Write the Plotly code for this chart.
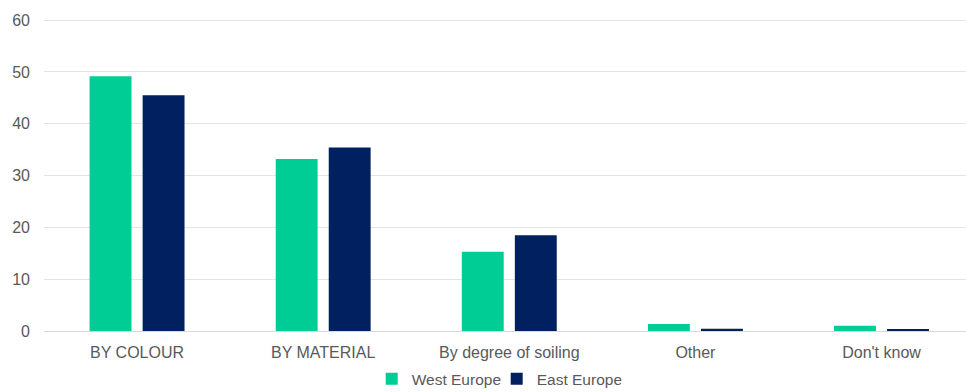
import plotly.graph_objects as go

categories = ["BY COLOUR", "BY MATERIAL", "By degree of soiling", "Other", "Don't know"]
west_europe = [49.2, 33.2, 15.3, 1.35, 1.0]
east_europe = [45.5, 35.4, 18.5, 0.45, 0.25]
y_ticks = [0, 10, 20, 30, 40, 50, 60]

GREEN = "#00CC96"
NAVY = "#002060"
TEXT = "#595959"
GRID = "#E3E3E3"

fig = go.Figure()
fig.add_trace(go.Bar(name="West Europe", x=list(range(len(categories))), y=west_europe,
                     marker=dict(color=GREEN, line=dict(width=0))))
fig.add_trace(go.Bar(name="East Europe", x=list(range(len(categories))), y=east_europe,
                     marker=dict(color=NAVY, line=dict(width=0))))

fig.update_layout(
    width=966, height=392,
    margin=dict(l=44, r=0, t=15, b=61, autoexpand=False),
    paper_bgcolor="white", plot_bgcolor="white",
    barmode="group", bargap=0.43, bargroupgap=0.21,
    font=dict(family="Liberation Sans, Arial, sans-serif", size=16, color=TEXT),
    showlegend=True,
    legend=dict(orientation="h", x=0.491, xanchor="center",
                yref="container", y=0.033, yanchor="middle",
                font=dict(size=15.5, color=TEXT), traceorder="normal",
                itemwidth=30, itemsizing="constant", tracegroupgap=0,
                entrywidth=80, entrywidthmode="pixels"),
    xaxis=dict(range=[-0.5, 4.454], tickmode="array",
               tickvals=list(range(len(categories))), ticktext=categories,
               showgrid=False, zeroline=False, showline=False, ticks="",
               ticklabelstandoff=10, automargin=False,
               tickfont=dict(size=16, color=TEXT)),
    yaxis=dict(range=[0, 61], tickvals=y_ticks, showgrid=True, gridcolor=GRID,
               gridwidth=1, zeroline=True, zerolinecolor="#D9D9D9", zerolinewidth=1,
               showline=False, ticks="", ticklabelstandoff=13, automargin=False,
               tickfont=dict(size=16, color=TEXT)),
)

fig.write_html("out.html")
